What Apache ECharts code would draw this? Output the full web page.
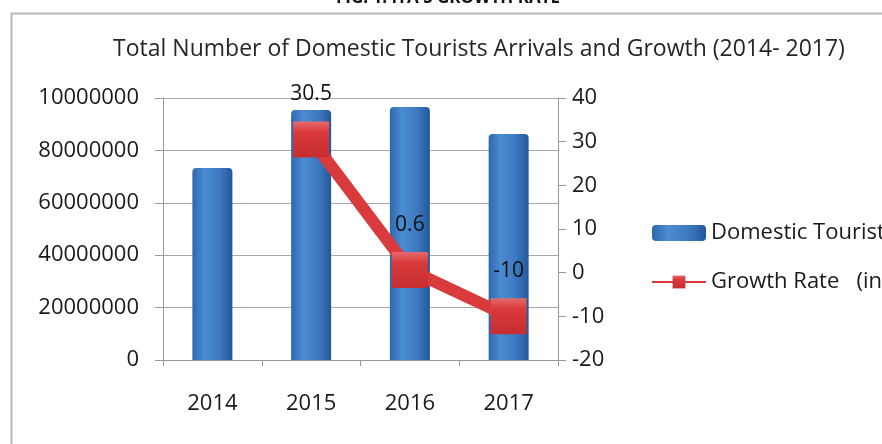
<!DOCTYPE html>
<html>
<head>
<meta charset="utf-8">
<script src="https://cdn.jsdelivr.net/npm/echarts@6/dist/echarts.min.js"></script>
<style>
  html, body { margin: 0; padding: 0; background: #fff; }
  #chart { width: 882px; height: 444px; }
</style>
</head>
<body>
<div id="chart"></div>
<script>
// data
var years = ['2014', '2015', '2016', '2017'];
var arrivals = [73300000, 95400000, 96600000, 86300000];
var growth = [null, 30.5, 0.6, -10];
var leftTickLabels = ['0', '20000000', '40000000', '60000000', '80000000', '10000000'];

(function(){
  var myChart = echarts.init(document.getElementById('chart'));
  var font = '"Open Sans", "Noto Sans", sans-serif';

  var option = {
    animation: false,
    textStyle: { fontFamily: font },
    title: {
      text: 'Total Number of Domestic Tourists Arrivals and Growth (2014- 2017)',
      left: 474,
      textAlign: 'center',
      top: 33,
      textStyle: { color: '#262626', fontSize: 23, fontWeight: 'normal', fontFamily: font }
    },
    graphic: [
      {
        // figure caption, cut off by the top edge
        type: 'text', x: 448, y: 7,
        style: {
          text: "FIG. 1. ITA'S GROWTH RATE", fontSize: 17, fontWeight: 'bold',
          fill: '#111', fontFamily: font, align: 'center', verticalAlign: 'bottom'
        }
      },
      {
        type: 'rect', left: 9, top: 11,
        shape: { width: 900, height: 460 },
        style: { fill: 'none', stroke: '#b8b8b8', lineWidth: 2 }
      }
    ],
    legend: {
      orient: 'vertical',
      left: 646,
      top: 217,
      itemWidth: 54,
      itemHeight: 16,
      itemGap: 27,
      textStyle: { color: '#1a1a1a', fontSize: 22, fontFamily: font },
      data: ['Domestic Tourists', 'Growth Rate   (in %)']
    },
    grid: { left: 163, right: 324, top: 98, bottom: 84 },
    xAxis: {
      type: 'category',
      data: years,
      axisLine: { lineStyle: { color: '#999' } },
      axisTick: { show: true, interval: 0, length: 6, lineStyle: { color: '#999' } },
      axisLabel: { color: '#1a1a1a', fontSize: 22, margin: 33 }
    },
    yAxis: [
      {
        type: 'value',
        min: 0, max: 100000000, interval: 20000000,
        axisLine: { show: true, lineStyle: { color: '#999' } },
        axisTick: { show: true, length: 8, lineStyle: { color: '#999' } },
        splitLine: { lineStyle: { color: '#aaa' } },
        axisLabel: {
          color: '#1a1a1a', fontSize: 22, margin: 24,
          formatter: function (v) { return leftTickLabels[Math.round(v / 20000000)]; }
        }
      },
      {
        type: 'value',
        min: -20, max: 40, interval: 10,
        axisLine: { show: true, lineStyle: { color: '#999' } },
        axisTick: { show: true, length: 8, lineStyle: { color: '#999' } },
        splitLine: { show: false },
        axisLabel: { color: '#1a1a1a', fontSize: 22, margin: 14 }
      }
    ],
    series: [
      {
        name: 'Domestic Tourists',
        type: 'bar',
        data: arrivals,
        barWidth: 40,
        itemStyle: {
          color: new echarts.graphic.LinearGradient(0, 0, 1, 0, [
            { offset: 0, color: '#2f67ad' },
            { offset: 0.3, color: '#4b8cd2' },
            { offset: 0.7, color: '#3b78c0' },
            { offset: 1, color: '#24579a' }
          ]),
          borderRadius: [4, 4, 0, 0]
        }
      },
      {
        name: 'Growth Rate   (in %)',
        type: 'line',
        yAxisIndex: 1,
        data: growth,
        symbol: 'rect',
        symbolSize: 36,
        lineStyle: { color: '#d93a3c', width: 12 },
        itemStyle: {
          color: new echarts.graphic.LinearGradient(0, 0, 0, 1, [
            { offset: 0, color: '#e46a6c' },
            { offset: 0.3, color: '#d9393b' },
            { offset: 1, color: '#c52e30' }
          ])
        },
        label: {
          show: true,
          position: 'top',
          distance: 17,
          color: '#111',
          fontSize: 21,
          fontFamily: font
        }
      }
    ]
  };

  myChart.setOption(option);
})();
</script>
</body>
</html>
